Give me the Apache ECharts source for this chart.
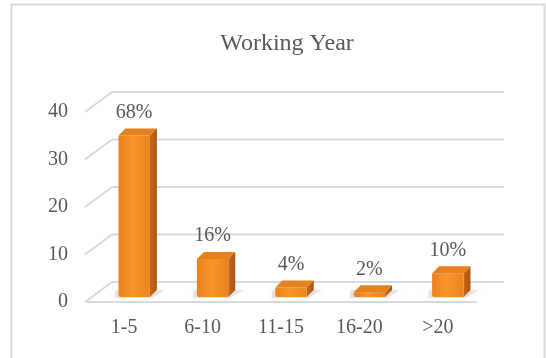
<!DOCTYPE html>
<html>
<head>
<meta charset="utf-8">
<script src="https://cdn.jsdelivr.net/npm/echarts@6/dist/echarts.min.js"></script>
<style>html,body{margin:0;padding:0;background:#fff;}#c{width:546px;height:358px;}</style>
</head>
<body>
<div id="c"></div>
<script>
const categories = ['1-5', '6-10', '11-15', '16-20', '>20'];
const counts = [34, 8, 2, 1, 5];
const percentLabels = ['68%', '16%', '4%', '2%', '10%'];
const yTicks = [0, 10, 20, 30, 40];

const FONT = "'Liberation Serif', 'Times New Roman', serif";
const TXT = '#595959';
const GRID = '#D9D9D9';
const DEPTH_X = 27, DEPTH_Y = -20;

const chart = echarts.init(document.getElementById('c'), null, {renderer: 'canvas'});

function renderGrid(params, api) {
  const v = api.value(1);
  const p = api.coord([0, v]);
  const cs = params.coordSys;
  const gx = cs.x, gw = cs.width, y = p[1];
  const children = [
    {type: 'line', shape: {x1: gx, y1: y, x2: gx + DEPTH_X, y2: y + DEPTH_Y}, style: {stroke: GRID, lineWidth: 2}},
    {type: 'line', shape: {x1: gx + DEPTH_X, y1: y + DEPTH_Y, x2: gx + gw + DEPTH_X, y2: y + DEPTH_Y}, style: {stroke: GRID, lineWidth: 2}}
  ];
  if (v === 0) {
    children.push({type: 'line', shape: {x1: gx, y1: y, x2: gx + gw, y2: y}, style: {stroke: GRID, lineWidth: 2}});
  }
  return {type: 'group', children};
}

function renderBar(params, api) {
  const i = api.value(0), v = api.value(1);
  const base = api.coord([i, 0]);
  const top = api.coord([i, v]);
  const w = api.size([1, 0])[0] * 0.4;
  const ox = 10, oy = -5, dx = 7, dy = -7;
  const xl = base[0] + ox - w / 2, xr = xl + w;
  const yb = base[1] + oy, yt = top[1] + oy;
  return {
    type: 'group',
    children: [
      {type: 'polygon', shape: {points: [[xl - 4, yb + 1], [xr + 2, yb + 1], [xr + dx + 8, yb + dy], [xl + dx - 10, yb + dy]]},
        style: {fill: 'rgba(150,150,150,0.22)', shadowBlur: 5, shadowColor: 'rgba(0,0,0,0.2)'}},
      {type: 'polygon', shape: {points: [[xr, yb], [xr + dx, yb + dy], [xr + dx, yt + dy], [xr, yt]]},
        style: {fill: new echarts.graphic.LinearGradient(0, 0, 1, 0, [{offset: 0, color: '#C8681A'}, {offset: 1, color: '#A85614'}])}},
      {type: 'rect', shape: {x: xl, y: yt, width: w, height: yb - yt, r: [1, 0, 0, 2]},
        style: {fill: new echarts.graphic.LinearGradient(0, 0, 1, 0, [
          {offset: 0, color: '#E9821E'}, {offset: 0.45, color: '#F8952A'}, {offset: 1, color: '#EA841F'}])}},
      {type: 'polygon', shape: {points: [[xl, yt], [xl + dx, yt + dy], [xr + dx, yt + dy], [xr, yt]]},
        style: {fill: '#E5801F'}},
      {type: 'text', x: xl + w / 2, y: yt - 23,
        style: {text: percentLabels[i], fill: TXT, font: '20px ' + FONT, align: 'center', verticalAlign: 'middle'}}
    ]
  };
}

const option = {
  animation: false,
  backgroundColor: '#fff',
  title: {
    text: 'Working Year', left: 282, top: 27, textAlign: 'center',
    textStyle: {fontFamily: FONT, fontSize: 24, fontWeight: 'normal', color: TXT}
  },
  graphic: [{
    type: 'rect', shape: {x: 11.5, y: 4.5, width: 533, height: 370},
    style: {fill: 'none', stroke: '#D9D9D9', lineWidth: 2}, silent: true
  }],
  grid: {left: 85, right: 69, top: 112, bottom: 56},
  xAxis: {
    type: 'category', data: categories,
    axisLine: {show: false}, axisTick: {show: false}, splitLine: {show: false},
    axisLabel: {fontFamily: FONT, fontSize: 20, color: TXT, margin: 16}
  },
  yAxis: {
    type: 'value', min: 0, max: 40, interval: 10,
    axisLine: {show: false}, axisTick: {show: false}, splitLine: {show: false},
    axisLabel: {fontFamily: FONT, fontSize: 20, color: TXT, margin: 17}
  },
  series: [
    {type: 'custom', silent: true, z: 1, renderItem: renderGrid,
      data: yTicks.map(t => [0, t]), encode: {x: 0, y: 1}},
    {type: 'custom', z: 2, renderItem: renderBar,
      data: counts.map((c, i) => [i, c]), encode: {x: 0, y: 1}}
  ]
};
chart.setOption(option);
</script>
</body>
</html>
